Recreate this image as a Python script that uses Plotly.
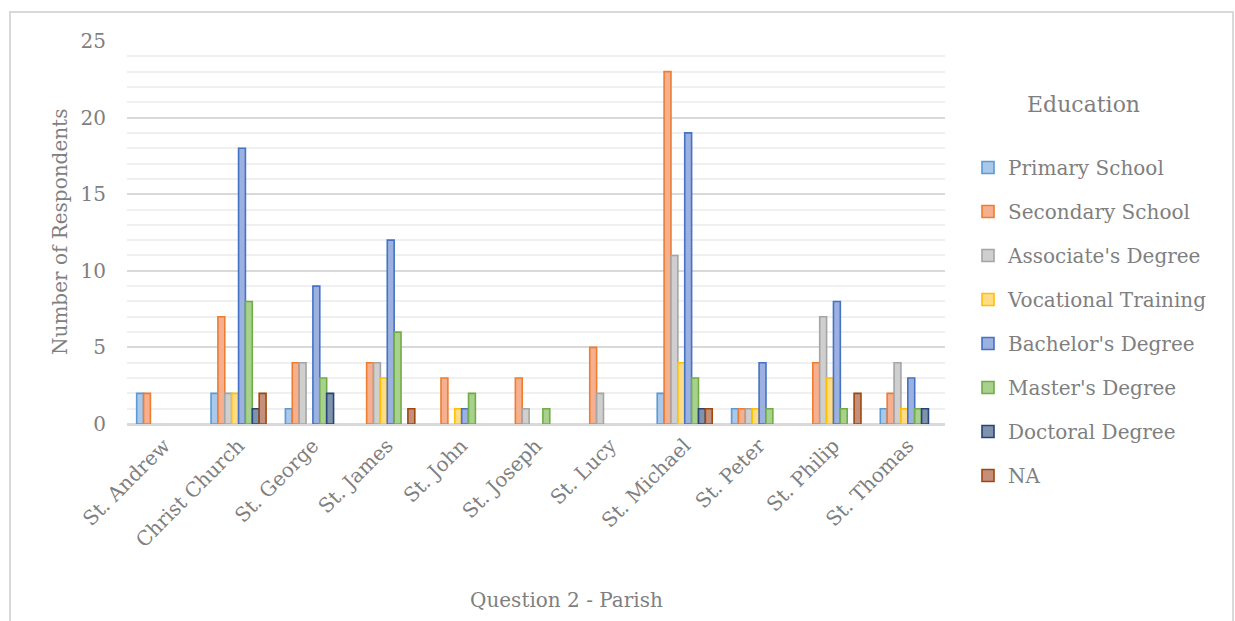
import plotly.graph_objects as go

parishes = ["St. Andrew", "Christ Church", "St. George", "St. James", "St. John",
            "St. Joseph", "St. Lucy", "St. Michael", "St. Peter", "St. Philip", "St. Thomas"]

primary_school = [2, 2, 1, 0, 0, 0, 0, 2, 1, 0, 1]
secondary_school = [2, 7, 4, 4, 3, 3, 5, 23, 1, 4, 2]
associates_degree = [0, 2, 4, 4, 0, 1, 2, 11, 1, 7, 4]
vocational_training = [0, 2, 0, 3, 1, 0, 0, 4, 1, 3, 1]
bachelors_degree = [0, 18, 9, 12, 1, 0, 0, 19, 4, 8, 3]
masters_degree = [0, 8, 3, 6, 2, 1, 0, 3, 1, 1, 1]
doctoral_degree = [0, 1, 2, 0, 0, 0, 0, 1, 0, 0, 1]
not_answered = [0, 2, 0, 1, 0, 0, 0, 1, 0, 2, 0]

series = [
    ("Primary School", primary_school, "#a9c8ea", "#5b9bd5"),
    ("Secondary School", secondary_school, "#f6b08f", "#ed7d31"),
    ("Associate's Degree", associates_degree, "#cfcfcf", "#a5a5a5"),
    ("Vocational Training", vocational_training, "#ffdc85", "#ffc000"),
    ("Bachelor's Degree", bachelors_degree, "#9cb1e0", "#4472c4"),
    ("Master's Degree", masters_degree, "#a9d18e", "#70ad47"),
    ("Doctoral Degree", doctoral_degree, "#7f93ad", "#264478"),
    ("NA", not_answered, "#c48f7b", "#9e480e"),
]

FONT = "DejaVu Serif"
GRAY = "#7f7f7f"

# plot area in pixels: x 127..945, y 41..424
PL, PR, PT, PB = 127, 945, 41, 424
PW, PH = PR - PL, PB - PT


def px_x(x):
    return (x - PL) / PW


def px_y(y):
    return (PB - y) / PH


fig = go.Figure()
for name, vals, fill, edge in series:
    # empty counts get no bar (avoids a stray outline on the baseline)
    shown = [v if v else None for v in vals]
    fig.add_trace(go.Bar(
        x=parishes, y=shown, name=name, legendgroup=name,
        marker=dict(color=fill, line=dict(color=edge, width=1.6)),
    ))

fig.update_layout(
    width=1235, height=621,
    margin=dict(l=PL, r=1235 - PR, t=PT, b=621 - PB, autoexpand=False),
    paper_bgcolor="white", plot_bgcolor="white",
    barmode="group", bargap=0.26, bargroupgap=0,
    font=dict(family=FONT, color=GRAY, size=20),
    showlegend=True,
    legend=dict(
        x=px_x(968), xanchor="left", y=px_y(148), yanchor="top",
        font=dict(family=FONT, size=20, color=GRAY),
        tracegroupgap=15, itemwidth=30,
        bgcolor="rgba(0,0,0,0)",
    ),
    xaxis=dict(
        tickangle=-45, tickfont=dict(size=20, color=GRAY, family=FONT),
        showline=True, linecolor="#d9d9d9", linewidth=2,
        ticks="", showgrid=False,
    ),
    yaxis=dict(
        range=[0, 25], tickvals=[0, 5, 10, 15, 20, 25],
        tickfont=dict(size=20, color=GRAY, family=FONT),
        showgrid=True, gridcolor="#d9d9d9", gridwidth=1.5,
        minor=dict(dtick=1, showgrid=True, gridcolor="#f0f0f0", gridwidth=1.5),
        zeroline=True, zerolinecolor="#d9d9d9", zerolinewidth=2,
        ticks="", ticklabelstandoff=20,
    ),
    annotations=[
        dict(text="Number of Respondents", xref="paper", yref="paper",
             x=px_x(60), y=px_y(232), xanchor="center", yanchor="middle", textangle=-90,
             showarrow=False, font=dict(size=20, color=GRAY, family=FONT)),
        dict(text="Question 2 - Parish", xref="paper", yref="paper",
             x=px_x(566), y=px_y(600), xanchor="center", yanchor="middle",
             showarrow=False, font=dict(size=20, color=GRAY, family=FONT)),
        dict(text="Education", xref="paper", yref="paper",
             x=px_x(1083), y=px_y(104), xanchor="center", yanchor="middle",
             showarrow=False, font=dict(size=22, color=GRAY, family=FONT)),
    ],
    shapes=[
        dict(type="rect", xref="paper", yref="paper",
             x0=px_x(10), x1=px_x(1233), y0=px_y(640), y1=px_y(12),
             line=dict(color="#d9d9d9", width=2), fillcolor="rgba(0,0,0,0)", layer="below"),
    ],
)

fig.write_html("out.html")
